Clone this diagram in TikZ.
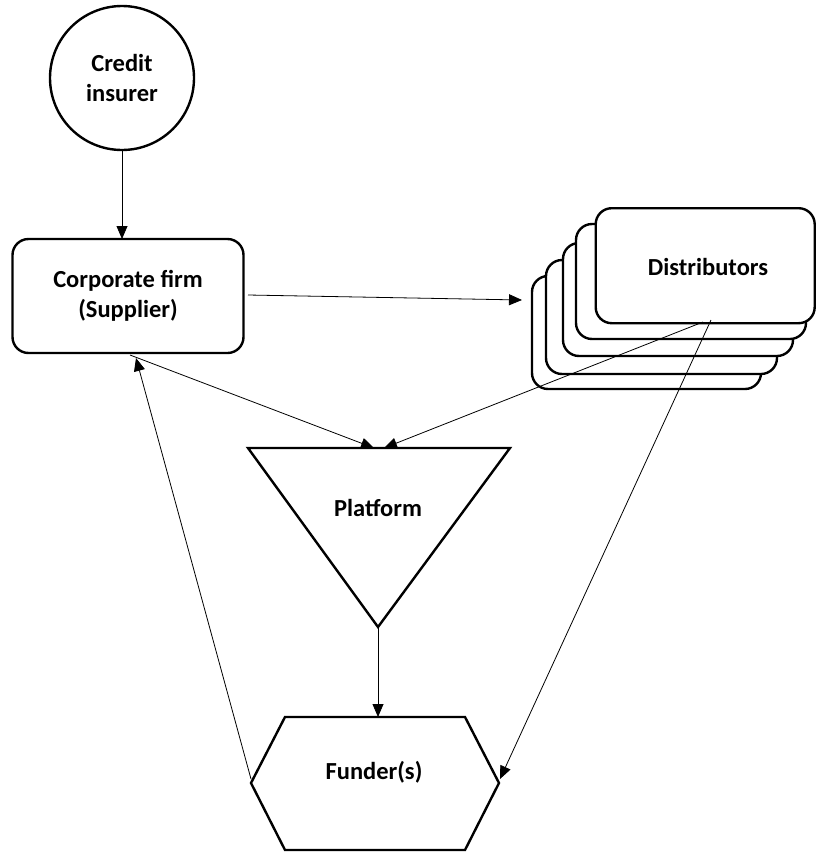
\documentclass[tikz,border=0pt]{standalone}
\usepackage{fontspec}
\setmainfont{Carlito}
\usetikzlibrary{arrows.meta}
\begin{document}
\begin{tikzpicture}[x=1pt,y=-1pt,
  shapeline/.style={draw=black,line width=2.4pt},
  lbl/.style={font=\fontsize{24.5}{30}\selectfont\bfseries, align=center, text=black},
  link/.style={draw=black,line width=0.8pt,-{Triangle[length=13pt,width=11pt]}},
  stackbox/.style={shapeline, fill=white, rounded corners=16pt}
]
\useasboundingbox (0,0) rectangle (816,852);

% Credit insurer
\node[shapeline, circle, minimum size=144pt, inner sep=0pt, lbl] (ins) at (122,78) {Credit\\insurer};

% Corporate firm
\node[shapeline, rectangle, rounded corners=16pt, minimum width=231pt, minimum height=114pt, lbl] (corp) at (128,296) {Corporate firm\\(Supplier)};

% Distributors: stack of cards, back to front
\node[stackbox, minimum width=229pt, minimum height=113pt] (d5) at (646.5,332.5) {};
\node[stackbox, minimum width=231pt, minimum height=114pt] (d4) at (661.5,317) {};
\node[stackbox, minimum width=230pt, minimum height=113pt] (d3) at (678,299.5) {};
\node[stackbox, minimum width=230pt, minimum height=115pt] (d2) at (691,281.5) {};
\node[stackbox, minimum width=219pt, minimum height=115pt, anchor=north west, inner sep=0pt] (dist) at (594.5,207) {};
\node[lbl] (distlbl) at (708,267) {Distributors};

% Platform (inverted triangle)
\coordinate (pl) at (248,448);
\coordinate (pr) at (510,448);
\coordinate (pb) at (378,627);
\draw[shapeline, line join=miter] (pl) -- (pr) -- (pb) -- cycle;
\node[lbl] (plat) at (378,508) {Platform};

% Funder(s) (hexagon)
\coordinate (hl) at (251,783);
\coordinate (hr) at (499,783);
\coordinate (ht) at (378,717);
\draw[shapeline, line join=miter] (285,717) -- (465,717) -- (hr) -- (465,850) -- (285,850) -- (hl) -- cycle;
\node[lbl] (fund) at (374,772) {Funder(s)};

% connector end points
\coordinate (corptop) at (122,239);
\coordinate (distin) at (522,300);
\coordinate (corpout) at (248,295);
\coordinate (corpbot) at (130,355);
\coordinate (corpin) at (136,358);
\coordinate (platin1) at (374,448);
\coordinate (platin2) at (384,448);
\coordinate (distout1) at (703,322);
\coordinate (distout2) at (711,320);
\coordinate (fundin) at (500,779);
\coordinate (fundout) at (251,779);

% Connectors
\draw[link] (ins.south) -- (corptop);
\draw[link] (corpout) -- (distin);
\draw[link] (corpbot) -- (platin1);
\draw[link] (distout1) -- (platin2);
\draw[link] (pb) -- (ht);
\draw[link] (distout2) -- (fundin);
\draw[link] (fundout) -- (corpin);
\end{tikzpicture}
\end{document}
